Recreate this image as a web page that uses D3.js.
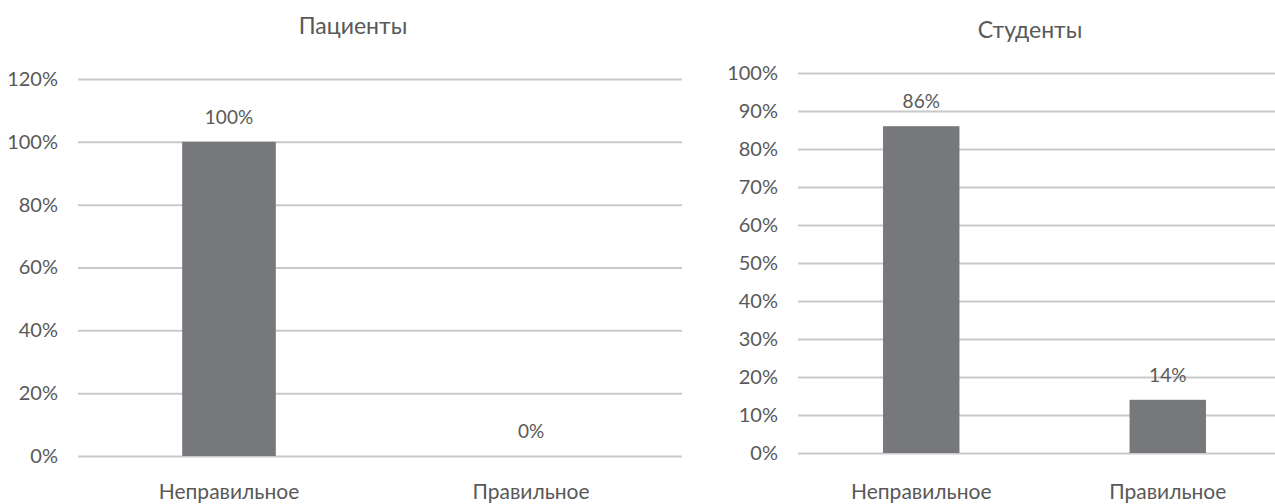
<!DOCTYPE html>
<html>
<head>
<meta charset="utf-8">
<script src="https://cdn.jsdelivr.net/npm/d3@7"></script>
<style>
  body { margin: 0; background: #fff; }
  svg { display: block; font-family: Lato, "Open Sans", sans-serif; }
</style>
</head>
<body>
<svg width="1275" height="504"></svg>
<script>
const categories = ["Неправильное", "Правильное"];
const patientValues = [100, 0];
const studentValues = [86, 14];
const patientTicks = [0, 20, 40, 60, 80, 100, 120];
const studentTicks = [0, 10, 20, 30, 40, 50, 60, 70, 80, 90, 100];

const svg = d3.select("svg");
const textColor = "#595959";
const barColor = "#77787b";
const gridColor = "#c9c9c9";

function drawChart(opts) {
    const g = svg.append("g");

    const x = d3.scaleBand()
        .domain(categories)
        .range([opts.left, opts.right])
        .paddingInner(0.69)
        .paddingOuter(0.345);

    const y = d3.scaleLinear()
        .domain([0, d3.max(opts.ticks)])
        .range([opts.bottom, opts.top]);

    // gridlines + tick labels
    const yAxis = d3.axisLeft(y)
        .tickValues(opts.ticks)
        .tickSize(-(opts.right - opts.left))
        .tickPadding(20)
        .tickFormat(d => d + "%");

    g.append("g")
        .attr("transform", `translate(${opts.left},0)`)
        .call(yAxis)
        .call(a => a.select(".domain").remove())
        .call(a => a.selectAll("line").attr("stroke", gridColor).attr("stroke-width", 2))
        .call(a => a.selectAll("text")
            .attr("fill", textColor)
            .style("font-size", "20px")
            .style("font-family", "Lato, sans-serif"));

    // bars
    g.selectAll("rect.bar")
        .data(opts.values)
        .enter().append("rect")
        .attr("class", "bar")
        .attr("x", (d, i) => x(categories[i]))
        .attr("width", x.bandwidth())
        .attr("y", d => y(d))
        .attr("height", d => y(0) - y(d))
        .attr("fill", barColor);

    // data labels
    g.selectAll("text.label")
        .data(opts.values)
        .enter().append("text")
        .attr("class", "label")
        .attr("x", (d, i) => x(categories[i]) + x.bandwidth() / 2)
        .attr("y", d => y(d) - 18)
        .attr("text-anchor", "middle")
        .attr("fill", textColor)
        .style("font-size", "19px")
        .text(d => d + "%");

    // category labels (sit right at the bottom edge, as in the source)
    g.selectAll("text.cat")
        .data(categories)
        .enter().append("text")
        .attr("class", "cat")
        .attr("x", d => x(d) + x.bandwidth() / 2)
        .attr("y", 499)
        .attr("text-anchor", "middle")
        .attr("fill", textColor)
        .style("font-size", "21px")
        .text(d => d);

    // title
    g.append("text")
        .attr("x", opts.titleX)
        .attr("y", opts.titleY)
        .attr("text-anchor", "middle")
        .attr("fill", textColor)
        .style("font-size", "23px")
        .text(opts.title);
}

drawChart({
    title: "Пациенты", titleX: 353, titleY: 34,
    values: patientValues, ticks: patientTicks,
    left: 78, right: 682, top: 79, bottom: 456
});

drawChart({
    title: "Студенты", titleX: 1030, titleY: 38,
    values: studentValues, ticks: studentTicks,
    left: 798, right: 1291, top: 73, bottom: 453
});
</script>
</body>
</html>
